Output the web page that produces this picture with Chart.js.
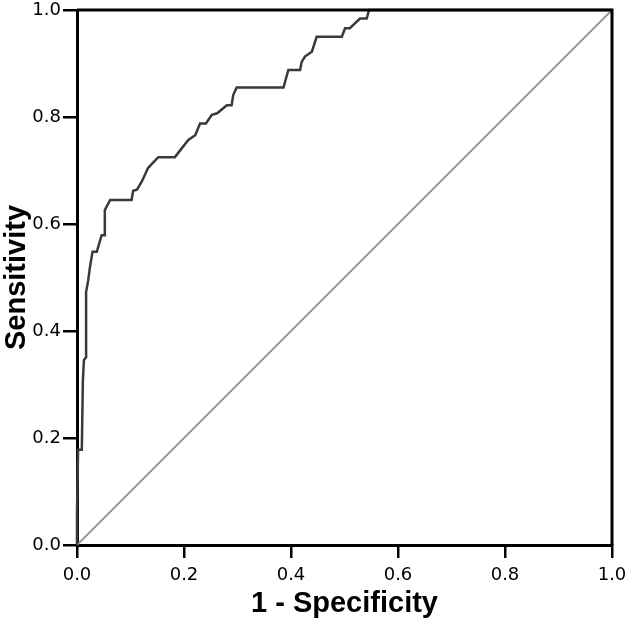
<!DOCTYPE html>
<html>
<head>
<meta charset="utf-8">
<script src="https://cdn.jsdelivr.net/npm/chart.js@4.4.1/dist/chart.umd.min.js"></script>
<style>
  html, body { margin: 0; padding: 0; background: #ffffff; }
  #wrap { width: 630px; height: 621px; }
</style>
</head>
<body>
<div id="wrap"><canvas id="c" width="630" height="621"></canvas></div>
<script>
// ROC curve: 1 - Specificity (x) and Sensitivity (y)
const fpr = [0, 0, 0.002, 0.009, 0.011, 0.013, 0.017, 0.017, 0.021, 0.024, 0.029, 0.037, 0.046, 0.052, 0.052, 0.062,
  0.102, 0.105, 0.112, 0.121, 0.127, 0.133, 0.152, 0.183, 0.208, 0.221, 0.230, 0.241, 0.252, 0.262, 0.280, 0.289,
  0.292, 0.2985, 0.386, 0.395, 0.417, 0.420, 0.426, 0.439, 0.448, 0.495, 0.501, 0.510, 0.529, 0.5415, 0.546, 1.0];
const tpr = [0, 0.06, 0.178, 0.178, 0.308, 0.346, 0.351, 0.473, 0.495, 0.518, 0.548, 0.548, 0.579, 0.579, 0.626, 0.645,
  0.645, 0.662, 0.664, 0.679, 0.692, 0.705, 0.725, 0.725, 0.757, 0.766, 0.788, 0.788, 0.804, 0.807, 0.822, 0.822,
  0.841, 0.855, 0.855, 0.888, 0.888, 0.903, 0.913, 0.922, 0.950, 0.950, 0.966, 0.966, 0.984, 0.984, 1.0, 1.0];
// Reference (chance) line
const refX = [0, 1];
const refY = [0, 1];
const tickValues = [0, 0.2, 0.4, 0.6, 0.8, 1.0];
const xTitle = '1 - Specificity';
const yTitle = 'Sensitivity';

const rocPoints = fpr.map((v, i) => ({ x: v, y: tpr[i] }));
const refPoints = refX.map((v, i) => ({ x: v, y: refY[i] }));

const boxPlugin = {
  id: 'box',
  afterDatasetsDraw(chart) {
    const a = chart.chartArea, ctx = chart.ctx;
    ctx.save();
    ctx.strokeStyle = '#000';
    ctx.lineWidth = 3;
    ctx.beginPath();
    ctx.moveTo(a.left, a.top);
    ctx.lineTo(a.right, a.top);
    ctx.lineTo(a.right, a.bottom);
    ctx.stroke();
    ctx.restore();
  }
};

const tickFont = { family: '"DejaVu Sans", "Liberation Sans", Arial, sans-serif', size: 18 };
const titleFont = { family: '"Liberation Sans", Arial, sans-serif', size: 29, weight: 'bold' };

new Chart(document.getElementById('c'), {
  type: 'scatter',
  data: {
    datasets: [
      {
        data: rocPoints,
        showLine: true,
        borderColor: '#3a3a3a',
        borderWidth: 2.5,
        pointRadius: 0,
        tension: 0,
        clip: false
      },
      {
        data: refPoints,
        showLine: true,
        borderColor: '#9a9a9a',
        borderWidth: 2,
        pointRadius: 0,
        clip: false
      }
    ]
  },
  options: {
    responsive: false,
    animation: false,
    devicePixelRatio: 1,
    layout: { padding: { top: 10, right: 18, left: 0, bottom: 0 } },
    plugins: { legend: { display: false }, tooltip: { enabled: false } },
    scales: {
      x: {
        type: 'linear',
        min: 0, max: 1,
        afterBuildTicks(s) { s.ticks = tickValues.map(v => ({ value: v })); },
        afterFit(s) { s.height = 76; s.paddingLeft = 0; s.paddingRight = 0; },
        border: { display: true, color: '#000', width: 3 },
        grid: { drawOnChartArea: false, drawTicks: true, tickLength: 13, color: '#000', lineWidth: 2.5 },
        ticks: { color: '#000', font: tickFont, padding: 7, callback: v => Number(v).toFixed(1), maxRotation: 0 },
        title: { display: true, text: xTitle, color: '#000', font: titleFont, padding: { top: 0, bottom: 0 } }
      },
      y: {
        type: 'linear',
        min: 0, max: 1,
        afterBuildTicks(s) { s.ticks = tickValues.map(v => ({ value: v })); },
        afterFit(s) { s.width = 77; s.paddingTop = 0; s.paddingBottom = 0; },
        border: { display: true, color: '#000', width: 3 },
        grid: { drawOnChartArea: false, drawTicks: true, tickLength: 14, color: '#000', lineWidth: 2.5 },
        ticks: { color: '#000', font: tickFont, padding: 2, callback: v => Number(v).toFixed(1) },
        title: { display: true, text: yTitle, color: '#000', font: titleFont, padding: { top: 0, bottom: 0 } }
      }
    }
  },
  plugins: [boxPlugin]
});
</script>
</body>
</html>
